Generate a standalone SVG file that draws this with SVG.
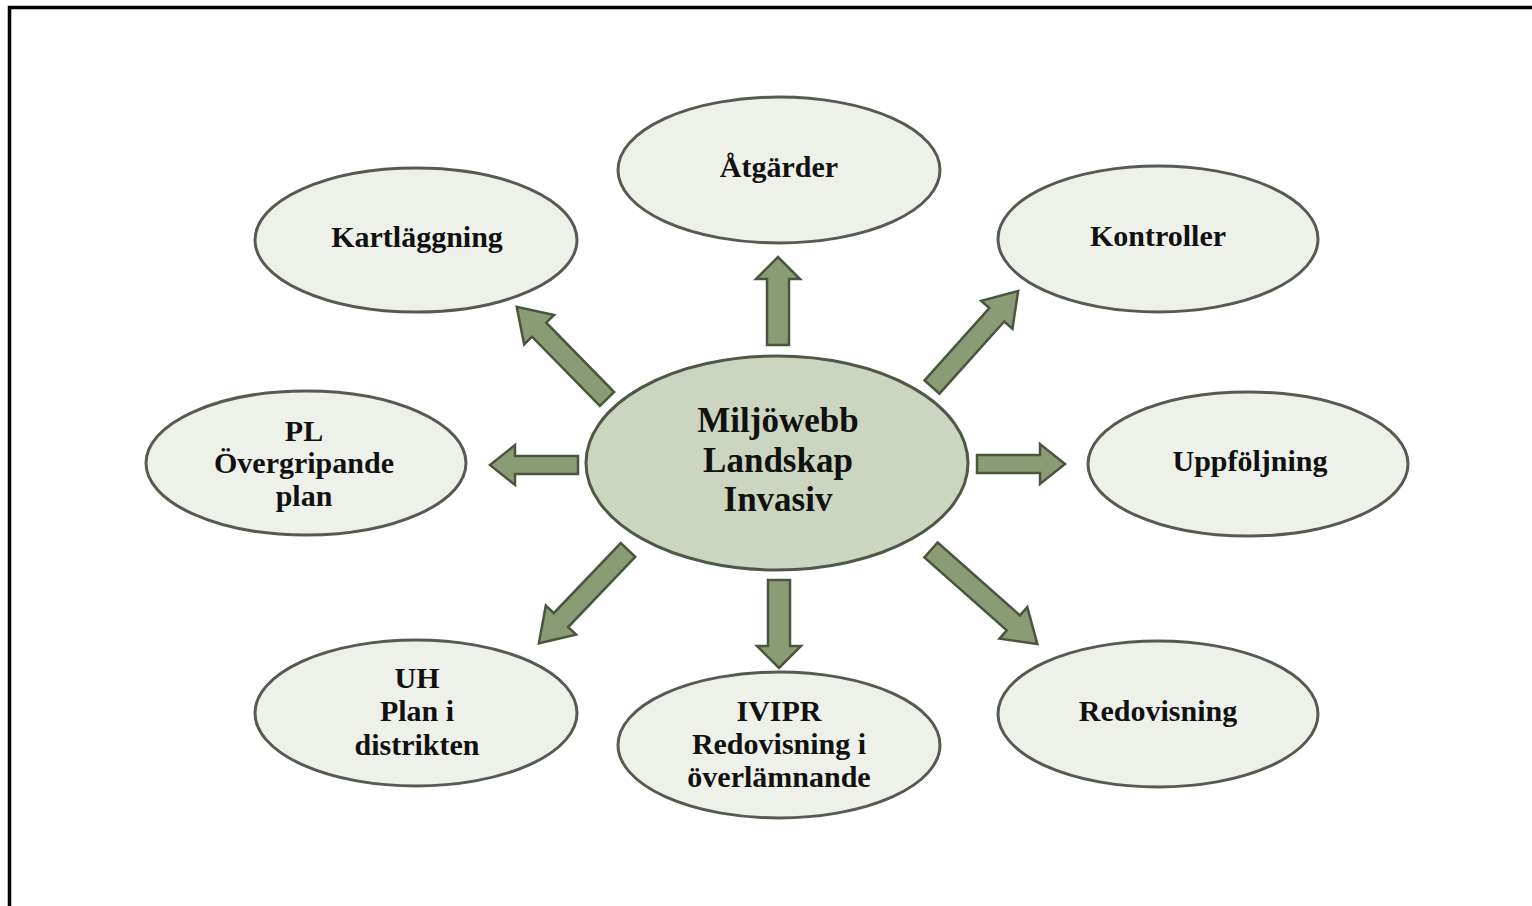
<svg xmlns="http://www.w3.org/2000/svg" width="1532" height="906" viewBox="0 0 1532 906">
<style>
.outer{fill:#eef1ea;stroke:#555b50;stroke-width:3}
.center{fill:#ccd5bf;stroke:#4f5847;stroke-width:3}
.arrow{fill:#8b9b74;stroke:#4a5540;stroke-width:2.5;stroke-linejoin:miter}
text{font-family:"Liberation Serif","DejaVu Serif",serif;font-weight:bold;fill:#111;text-anchor:middle}
.t{font-size:30px}
.c{font-size:35px}
</style>
<defs>
<path id="arrH" d="M0,-9 L63,-9 L63,-20 L88,0 L63,20 L63,9 L0,9 Z"/>
<path id="arrV" d="M0,-11 L66,-11 L66,-22 L88,0 L66,22 L66,11 L0,11 Z"/>
<path id="arrD" d="M0,-10 L97,-10 L97,-21 L129,0 L97,21 L97,10 L0,10 Z"/>
<path id="arrDL" d="M0,-10 L110,-10 L110,-21 L142,0 L110,21 L110,10 L0,10 Z"/>
</defs>
<rect x="0" y="0" width="1532" height="906" fill="#fff"/>
<path d="M9.5,906 L9.5,7.5 L1532,7.5" fill="none" stroke="#000" stroke-width="3.5"/>

<g id="connectors">
<use href="#arrH" class="arrow" transform="translate(578,465) rotate(180)"/>
<use href="#arrH" class="arrow" transform="translate(977,464)"/>
<use href="#arrV" class="arrow" transform="translate(778,345) rotate(-90)"/>
<use href="#arrV" class="arrow" transform="translate(779,580) rotate(90)"/>
<use href="#arrD" class="arrow" transform="translate(607,399) rotate(-134.4)"/>
<use href="#arrD" class="arrow" transform="translate(932,387) rotate(-48.1)"/>
<use href="#arrD" class="arrow" transform="translate(628,550) rotate(133.7)"/>
<use href="#arrDL" class="arrow" transform="translate(931,550) rotate(41.5)"/>
</g>

<g id="center">
<ellipse class="center" cx="777" cy="463" rx="191" ry="107"/>
<text class="c" x="778" y="432">Miljöwebb</text>
<text class="c" x="778" y="472">Landskap</text>
<text class="c" x="778" y="511">Invasiv</text>
</g>
<g id="atgarder">
<ellipse class="outer" cx="779" cy="170" rx="161" ry="73"/>
<text class="t" x="779" y="177">Åtgärder</text>
</g>
<g id="kartlaggning">
<ellipse class="outer" cx="416" cy="240" rx="161" ry="72"/>
<text class="t" x="417" y="247">Kartläggning</text>
</g>
<g id="kontroller">
<ellipse class="outer" cx="1158" cy="239" rx="160" ry="73"/>
<text class="t" x="1158" y="246">Kontroller</text>
</g>
<g id="pl">
<ellipse class="outer" cx="306" cy="463" rx="160" ry="72"/>
<text class="t" x="304" y="441">PL</text>
<text class="t" x="304" y="473">Övergripande</text>
<text class="t" x="304" y="506">plan</text>
</g>
<g id="uppfoljning">
<ellipse class="outer" cx="1248" cy="464" rx="160" ry="72"/>
<text class="t" x="1250" y="471">Uppföljning</text>
</g>
<g id="uh">
<ellipse class="outer" cx="416" cy="713" rx="161" ry="73"/>
<text class="t" x="417" y="688">UH</text>
<text class="t" x="417" y="721">Plan i</text>
<text class="t" x="417" y="755">distrikten</text>
</g>
<g id="ivipr">
<ellipse class="outer" cx="779" cy="745" rx="161" ry="73"/>
<text class="t" x="779" y="721">IVIPR</text>
<text class="t" x="779" y="754">Redovisning i</text>
<text class="t" x="779" y="787">överlämnande</text>
</g>
<g id="redovisning">
<ellipse class="outer" cx="1158" cy="714" rx="160" ry="73"/>
<text class="t" x="1158" y="721">Redovisning</text>
</g>
</svg>
